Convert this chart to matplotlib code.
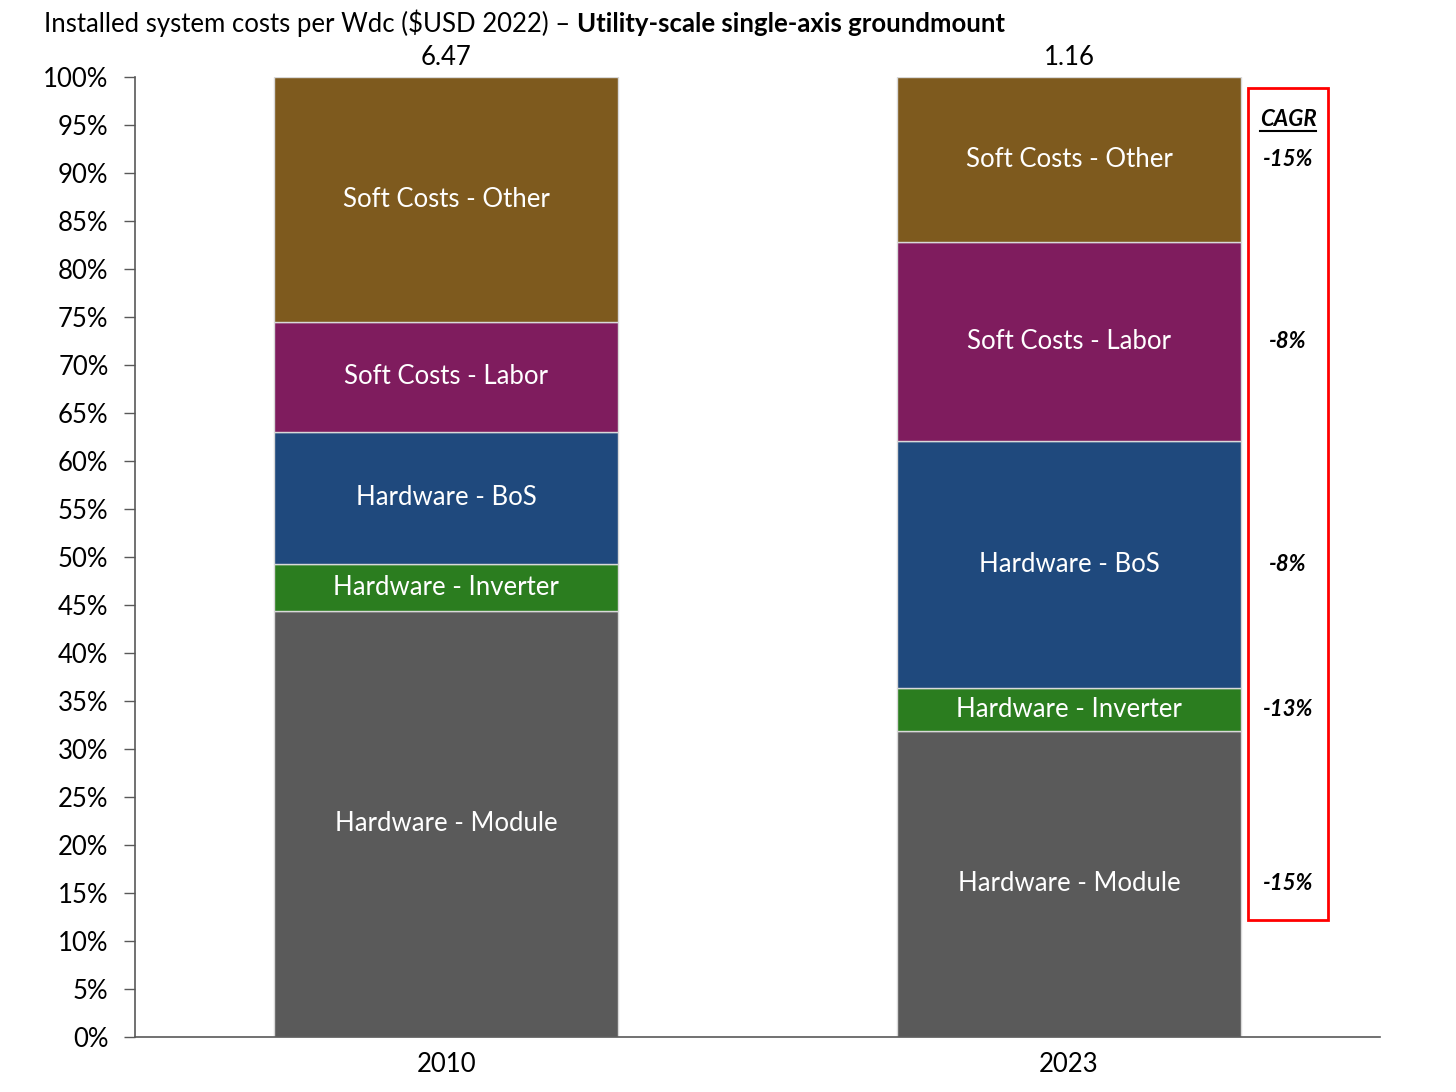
import matplotlib.pyplot as plt
from matplotlib.patches import Rectangle
import numpy as np

plt.rcParams['font.family'] = ['Lato', 'DejaVu Sans']

years = ['2010', '2023']
totals = ['6.47', '1.16']
segments = ['Hardware - Module', 'Hardware - Inverter', 'Hardware - BoS',
            'Soft Costs - Labor', 'Soft Costs - Other']
# share of installed cost, percent (bottom to top)
module = [44.4, 31.9]
inverter = [4.9, 4.4]
bos = [13.7, 25.8]
labor = [11.5, 20.7]
other = [25.5, 17.2]
cagr = ['-15%', '-13%', '-8%', '-8%', '-15%']  # same order as segments

colors = ['#5A5A5A', '#2B7D1F', '#1F497D', '#7F1C5E', '#7E5A1E']
fs = 18.5

fig = plt.figure(figsize=(14.56, 10.92), dpi=100)
ax = fig.add_axes([0.0927, 0.0504, 0.8553, 0.8791])

x = np.arange(len(years))
bottom = np.zeros(len(years))
series = [module, inverter, bos, labor, other]
for name, vals, col in zip(segments, series, colors):
    vals = np.array(vals)
    ax.bar(x, vals, width=0.553, bottom=bottom, color=col,
           edgecolor='#D9D9D9', linewidth=1.0)
    for xi, b, v in zip(x, bottom, vals):
        ax.text(xi, b + v / 2, name, ha='center', va='center',
                color='white', fontsize=fs)
    bottom += vals

# CAGR labels next to the 2023 bar
bottom23 = 0
for vals, c in zip(series, cagr):
    ax.text(1.352, bottom23 + vals[1] / 2, c, ha='center', va='center',
            fontsize=16, fontweight='bold', fontstyle='italic')
    bottom23 += vals[1]
ax.text(1.352, 95.6, 'CAGR', ha='center', va='center', fontsize=16,
        fontweight='bold', fontstyle='italic')
ax.plot([1.307, 1.397], [94.4, 94.4], color='black', lw=1.5, clip_on=False)
ax.add_patch(Rectangle((1.288, 12.2), 0.128, 86.65, fill=False,
                       edgecolor='#FF0000', lw=2, clip_on=False))

for xi, t in zip(x, totals):
    ax.text(xi, 100.7, t, ha='center', va='bottom', fontsize=fs)

ax.set_xlim(-0.5, 1.5)
ax.set_ylim(0, 100)
ax.set_yticks(np.arange(0, 101, 5))
ax.set_yticklabels([f'{v}%' for v in range(0, 101, 5)], fontsize=fs)
ax.set_xticks(x)
ax.set_xticklabels(years, fontsize=fs)
ax.tick_params(axis='x', length=0, pad=11)
ax.tick_params(axis='y', length=8, width=1, color='#595959', pad=11)
for s in ['top', 'right']:
    ax.spines[s].set_visible(False)
for s in ['left', 'bottom']:
    ax.spines[s].set_color('#595959')
    ax.spines[s].set_linewidth(1.2)

ty = 1 - 32 / 1092
t1 = fig.text(44 / 1456, ty, 'Installed system costs per Wdc ($USD 2022) \u2013 ',
              fontsize=fs, va='baseline', ha='left')
t2 = fig.text(0, ty, 'Utility-scale single-axis groundmount', fontsize=fs,
              fontweight='bold', va='baseline', ha='left')
fig.canvas.draw()
bb = t1.get_window_extent()
t2.set_position((bb.x1 / fig.bbox.width, ty))

fig.savefig('out.png', dpi=100)
